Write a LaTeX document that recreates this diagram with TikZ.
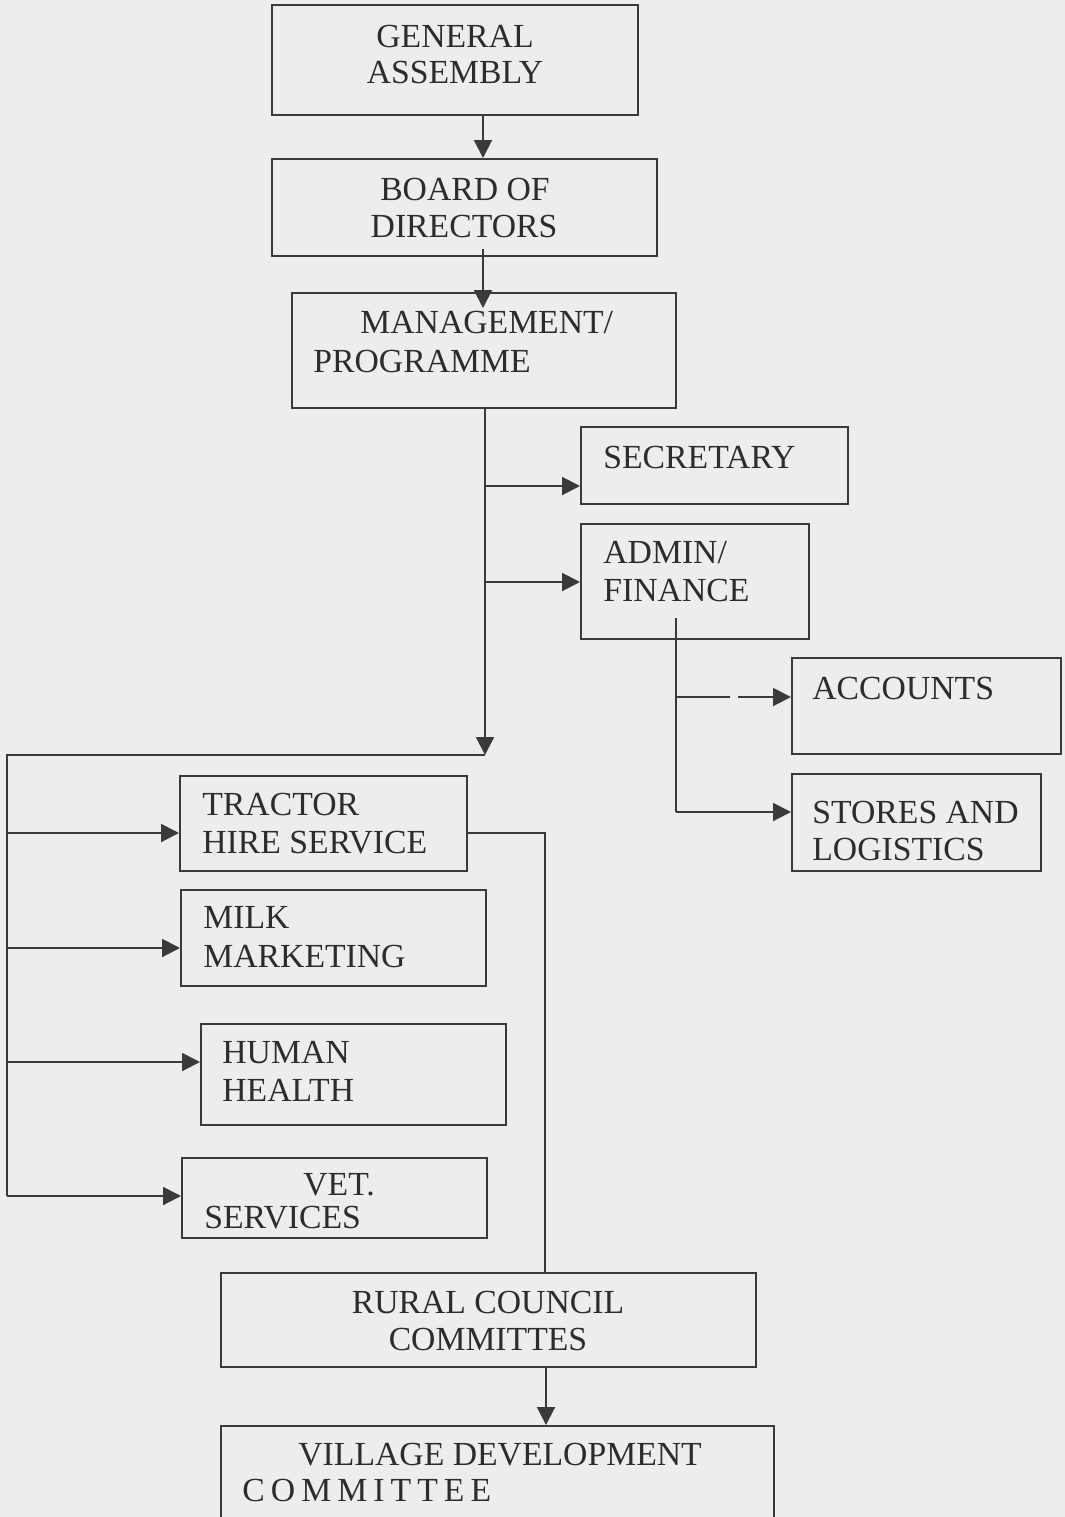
\documentclass[tikz,border=0pt]{standalone}
\usepackage{fontspec}
\setmainfont{Liberation Serif}
\newfontfamily\spacedfont[LetterSpace=18]{Liberation Serif}
\usetikzlibrary{arrows.meta,fit}
\definecolor{bgc}{HTML}{EDEDED}
\definecolor{inkc}{HTML}{2C2C2C}
\definecolor{linec}{HTML}{3A3A3A}
\begin{document}
\begin{tikzpicture}[x=0.5pt,y=-0.5pt,
  box/.style={draw=linec,line width=1pt,inner sep=0pt},
  txt/.style={inner sep=0pt,text=inkc,font=\fontsize{16.85}{19}\selectfont},
  arr/.style={draw=linec,line width=1pt,-{Triangle[length=9pt,width=9pt]}},
  ln/.style={draw=linec,line width=1pt}]
\fill[bgc] (0,0) rectangle (1065,1517);
\useasboundingbox (0,0) rectangle (1065,1517);

% boxes
\node[box,fit={(272,5) (638,115)}] (ga) {};
\node[box,fit={(272,159) (657,256)}] (bod) {};
\node[box,fit={(292,293) (676,408)}] (mgmt) {};
\node[box,fit={(581,427) (848,504)}] (sec) {};
\node[box,fit={(581,524) (809,639)}] (adm) {};
\node[box,fit={(792,658) (1061,754)}] (acc) {};
\node[box,fit={(792,774) (1041,871)}] (sto) {};
\node[box,fit={(180,776) (467,871)}] (tra) {};
\node[box,fit={(181,890) (486,986)}] (milk) {};
\node[box,fit={(201,1024) (506,1125)}] (hum) {};
\node[box,fit={(182,1158) (487,1238)}] (vet) {};
\node[box,fit={(221,1273) (756,1367)}] (rur) {};
\node[box,fit={(221,1426) (774,1540)}] (vil) {};

% texts
\node[txt,anchor=base] (ga1) at (455,47) {GENERAL};
\node[txt,anchor=base] (ga2) at (455,83) {ASSEMBLY};
\node[txt,anchor=base] (bod1) at (465,200) {BOARD OF};
\node[txt,anchor=base] (bod2) at (464,237) {DIRECTORS};
\node[txt,anchor=base west] (mg1) at (360,333) {MANAGEMENT/};
\node[txt,anchor=base west] (mg2) at (313,372) {PROGRAMME};
\node[txt,anchor=base west] (sec1) at (603,468) {SECRETARY};
\node[txt,anchor=base west] (adm1) at (603,563) {ADMIN/};
\node[txt,anchor=base west] (adm2) at (603,601) {FINANCE};
\node[txt,anchor=base west] (acc1) at (812,699) {ACCOUNTS};
\node[txt,anchor=base west] (sto1) at (812,823) {STORES AND};
\node[txt,anchor=base west] (sto2) at (812,860) {LOGISTICS};
\node[txt,anchor=base west] (tra1) at (202,815) {TRACTOR};
\node[txt,anchor=base west] (tra2) at (202,853) {HIRE SERVICE};
\node[txt,anchor=base west] (milk1) at (203,928) {MILK};
\node[txt,anchor=base west] (milk2) at (203,967) {MARKETING};
\node[txt,anchor=base west] (hum1) at (222,1063) {HUMAN};
\node[txt,anchor=base west] (hum2) at (222,1101) {HEALTH};
\node[txt,anchor=base west] (vet1) at (303,1195) {VET.};
\node[txt,anchor=base west] (vet2) at (204,1228) {SERVICES};
\node[txt,anchor=base] (rur1) at (488,1313) {RURAL COUNCIL};
\node[txt,anchor=base] (rur2) at (488,1350) {COMMITTES};
\node[txt,anchor=base west] (vil1) at (298,1465) {VILLAGE DEVELOPMENT};
\node[txt,anchor=base west,font=\fontsize{16.85}{19}\spacedfont] (vil2) at (242,1501) {COMMITTEE};

% helper coordinates
\coordinate (s1) at (483,0);
\coordinate (s2) at (485,0);
\coordinate (jn) at (485,755);
\coordinate (lt) at (7,755);
\coordinate (lb) at (7,1196);
\coordinate (b1) at (485,486);
\coordinate (b2) at (485,582);
\coordinate (a0) at (676,618);
\coordinate (a1) at (676,697);
\coordinate (a2) at (676,812);
\coordinate (t1) at (7,833);
\coordinate (t2) at (7,948);
\coordinate (t3) at (7,1062);
\coordinate (rx) at (545,833);
\coordinate (s3) at (546,0);

% connectors
\draw[arr] (ga.south -| s1) -- (bod.north -| s1);
\draw[arr,shorten <=-4pt,shorten >=-8pt] (bod.south -| s1) -- (mgmt.north -| s1);
\draw[arr] (mgmt.south -| s2) -- (jn);
\draw[ln] (jn) -- (lt) -- (lb);
\draw[arr] (b1) -- (b1 -| sec.west);
\draw[arr] (b2) -- (b2 -| adm.west);
\draw[ln] (a0) -- (a2);
\draw[arr,dash pattern=on 27pt off 4pt on 200pt] (a1) -- (a1 -| acc.west);
\draw[arr] (a2) -- (a2 -| sto.west);
\draw[arr] (t1) -- (t1 -| tra.west);
\draw[arr] (t2) -- (t2 -| milk.west);
\draw[arr] (t3) -- (t3 -| hum.west);
\draw[arr] (lb) -- (lb -| vet.west);
\draw[ln] (t1 -| tra.east) -- (rx) -- (rx |- rur.north);
\draw[arr] (rur.south -| s3) -- (vil.north -| s3);
\end{tikzpicture}
\end{document}
